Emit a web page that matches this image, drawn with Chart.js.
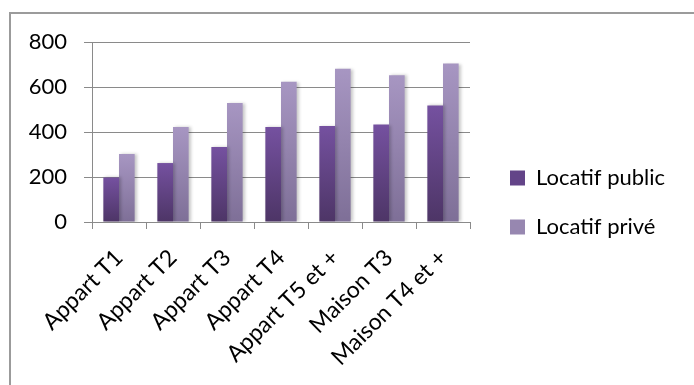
<!DOCTYPE html>
<html lang="fr">
<head>
<meta charset="UTF-8">
<title>Locatif public / privé</title>
<script src="https://cdn.jsdelivr.net/npm/chart.js"></script>
<style>
    body {
        margin: 0;
        background: #fff;
        overflow: hidden;
    }
    .frame {
        position: absolute;
        left: 9px;
        top: 12px;
        width: 720px;
        height: 420px;
        border: 2px solid #9b9b9b;
    }
    .chart-wrapper {
        position: absolute;
        left: 0;
        top: 0;
        width: 694px;
        height: 385px;
    }
</style>
</head>
<body>
<div class="frame"></div>
<div class="chart-wrapper">
    <canvas id="myChart"></canvas>
</div>

<script>
    const labels = ["Appart T1", "Appart T2", "Appart T3", "Appart T4", "Appart T5 et +", "Maison T3", "Maison T4 et +"];
    const locatifPublic = [198, 262, 333, 422, 427, 433, 518];
    const locatifPrive = [302, 422, 529, 623, 681, 652, 704];
    const yTicks = [0, 200, 400, 600, 800];

    // top / bottom of the gradient for each series
    const publicColors = ['#7551a0', '#4d3566'];
    const priveColors = ['#a796c2', '#7e6f97'];

    const FONT = 'Lato, "Open Sans", sans-serif';

    // plot box: y axis width, x axis height, legend width and its offsets
    const Y_AXIS_WIDTH = 92;
    const X_AXIS_HEIGHT = 163;
    const LEGEND_WIDTH = 224;
    const LEGEND_SHIFT_X = 13;
    const LEGEND_SHIFT_Y = -11;

    function barGradient(colors) {
        return (context) => {
            const chart = context.chart;
            const y = chart.scales && chart.scales.y;
            if (!chart.chartArea || !y || context.raw === undefined) {
                return colors[0];
            }
            const top = y.getPixelForValue(context.raw);
            const base = y.getPixelForValue(0);
            const g = chart.ctx.createLinearGradient(0, top, 0, base);
            g.addColorStop(0, colors[0]);
            g.addColorStop(1, colors[1]);
            return g;
        };
    }

    const barShadow = {
        id: 'barShadow',
        beforeDatasetsDraw(chart) {
            const ctx = chart.ctx;
            ctx.save();
            ctx.shadowColor = 'rgba(0, 0, 0, 0.22)';
            ctx.shadowBlur = 3;
            ctx.shadowOffsetX = 2;
            ctx.shadowOffsetY = 0;
        },
        afterDatasetsDraw(chart) {
            chart.ctx.restore();
        }
    };

    // fixed legend column on the right
    const legendBox = {
        id: 'legendBox',
        beforeLayout(chart) {
            const legend = chart.legend;
            if (legend && !legend._fixedFit) {
                const fit = legend.fit;
                legend.fit = function () {
                    fit.call(this);
                    this.width = LEGEND_WIDTH;
                };
                legend._fixedFit = true;
            }
        },
        afterLayout(chart) {
            const legend = chart.legend;
            legend.left += LEGEND_SHIFT_X;
            legend.right += LEGEND_SHIFT_X;
            legend.top += LEGEND_SHIFT_Y;
            legend.bottom += LEGEND_SHIFT_Y;
        }
    };

    const config = {
        type: 'bar',
        data: {
            labels: labels,
            datasets: [
                {
                    label: 'Locatif public',
                    data: locatifPublic,
                    backgroundColor: barGradient(publicColors),
                    legendColor: '#634488'
                },
                {
                    label: 'Locatif privé',
                    data: locatifPrive,
                    backgroundColor: barGradient(priveColors),
                    legendColor: '#9787b0'
                }
            ]
        },
        options: {
            responsive: true,
            maintainAspectRatio: false,
            animation: false,
            layout: {
                padding: { left: 0, right: 0, top: 42, bottom: 0 }
            },
            datasets: {
                bar: {
                    categoryPercentage: 0.58,
                    barPercentage: 1.0
                }
            },
            scales: {
                x: {
                    afterFit: (axis) => { axis.height = X_AXIS_HEIGHT; },
                    grid: {
                        offset: true,
                        drawOnChartArea: false,
                        drawTicks: true,
                        tickLength: 7,
                        color: '#8a8a8a'
                    },
                    border: { color: '#8a8a8a', width: 1 },
                    ticks: {
                        color: '#000',
                        font: { family: FONT, size: 23 },
                        minRotation: 45,
                        maxRotation: 45,
                        padding: 15
                    }
                },
                y: {
                    min: 0,
                    max: 800,
                    afterFit: (axis) => { axis.width = Y_AXIS_WIDTH; },
                    afterBuildTicks: (axis) => {
                        axis.ticks = yTicks.map(v => ({ value: v }));
                    },
                    grid: {
                        color: '#8a8a8a',
                        tickLength: 8
                    },
                    border: { color: '#8a8a8a', width: 1 },
                    ticks: {
                        color: '#000',
                        font: { family: FONT, size: 22 },
                        padding: 17
                    }
                }
            },
            plugins: {
                legend: {
                    position: 'right',
                    labels: {
                        color: '#000',
                        font: { family: FONT, size: 22 },
                        boxWidth: 15,
                        boxHeight: 15,
                        padding: 27,
                        generateLabels: (chart) => {
                            const items = Chart.defaults.plugins.legend.labels.generateLabels(chart);
                            items.forEach(item => {
                                item.fillStyle = chart.data.datasets[item.datasetIndex].legendColor;
                                item.lineWidth = 0;
                                item.strokeStyle = 'transparent';
                            });
                            return items;
                        }
                    }
                },
                tooltip: { enabled: false }
            }
        },
        plugins: [barShadow, legendBox]
    };

    const myChart = new Chart(document.getElementById('myChart'), config);
</script>
</body>
</html>
